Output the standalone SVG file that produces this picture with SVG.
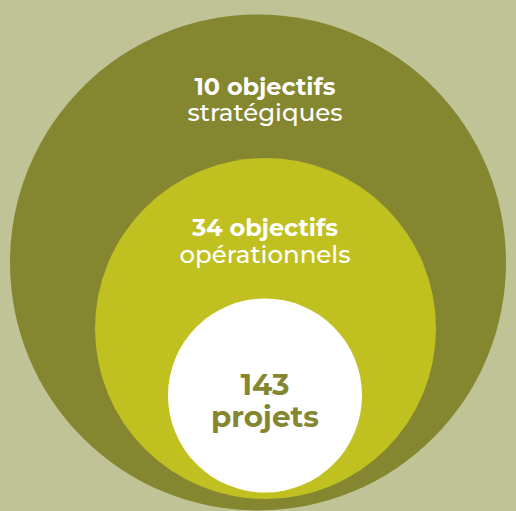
<svg xmlns="http://www.w3.org/2000/svg" width="516" height="511" viewBox="0 0 516 511">
<style>
.t{font-family:"Montserrat","Open Sans","Liberation Sans",sans-serif;text-anchor:middle;fill:#ffffff}
.b{font-weight:700;font-size:24px}
.r{font-weight:500;font-size:24.5px}
.p{font-family:"Montserrat","Open Sans","Liberation Sans",sans-serif;text-anchor:middle;fill:#858630;font-weight:700;font-size:29.5px}
</style>
<rect width="516" height="511" fill="#c0c395"/>
<g id="strategiques">
<circle cx="258" cy="262.5" r="248" fill="#858630"/>
<text class="t b" x="265" y="95">10 objectifs</text>
<text class="t r" x="265" y="121">stratégiques</text>
</g>
<g id="operationnels">
<circle cx="265.5" cy="328.5" r="170.5" fill="#c0c020"/>
<text class="t b" x="265" y="236">34 objectifs</text>
<text class="t r" x="265" y="263">opérationnels</text>
</g>
<g id="projets">
<circle cx="265" cy="395.5" r="97" fill="#ffffff"/>
<text class="p" x="265" y="395">143</text>
<text class="p" x="265" y="427">projets</text>
</g>
<g id="connectors"/>
</svg>
